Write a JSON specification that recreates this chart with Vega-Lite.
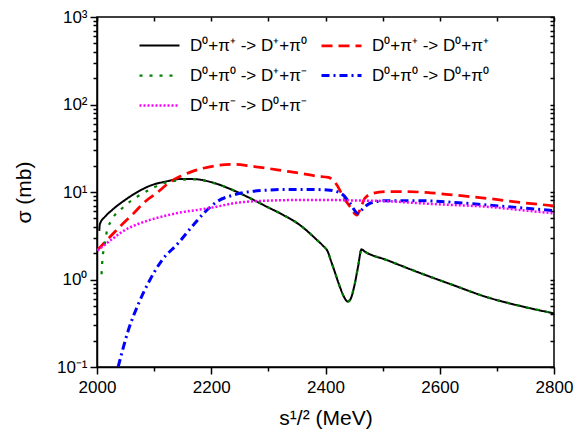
{
  "$schema": "https://vega.github.io/schema/vega-lite/v6.json",
  "width": 457,
  "height": 350,
  "autosize": "none",
  "padding": {"left": 97, "top": 17, "right": 22, "bottom": 69},
  "background": "white",
  "config": {
    "font": "Liberation Sans",
    "view": {"stroke": "black", "strokeWidth": 1.5},
    "axis": {
      "grid": false,
      "ticks": true,
      "domainColor": "black",
      "domainWidth": 1.5,
      "tickColor": "black",
      "tickWidth": 1.5,
      "tickOpacity": 1,
      "labelColor": "black",
      "titleColor": "black",
      "labelFont": "Liberation Sans",
      "titleFont": "Liberation Sans",
      "titleFontWeight": "normal",
      "labelFontSize": 17,
      "titleFontSize": 21
    }
  },
  "data": {
    "values": [
      {"reaction": "D⁰+π⁺ -> D⁺+π⁰", "x": 2004, "y": 3.6},
      {"reaction": "D⁰+π⁺ -> D⁺+π⁰", "x": 2005, "y": 4.3},
      {"reaction": "D⁰+π⁺ -> D⁺+π⁰", "x": 2015, "y": 5.3},
      {"reaction": "D⁰+π⁺ -> D⁺+π⁰", "x": 2026, "y": 6.2},
      {"reaction": "D⁰+π⁺ -> D⁺+π⁰", "x": 2049, "y": 8.1},
      {"reaction": "D⁰+π⁺ -> D⁺+π⁰", "x": 2072, "y": 10.1},
      {"reaction": "D⁰+π⁺ -> D⁺+π⁰", "x": 2096, "y": 12.0},
      {"reaction": "D⁰+π⁺ -> D⁺+π⁰", "x": 2119, "y": 13.1},
      {"reaction": "D⁰+π⁺ -> D⁺+π⁰", "x": 2148, "y": 14.1},
      {"reaction": "D⁰+π⁺ -> D⁺+π⁰", "x": 2172, "y": 14.0},
      {"reaction": "D⁰+π⁺ -> D⁺+π⁰", "x": 2201, "y": 12.9},
      {"reaction": "D⁰+π⁺ -> D⁺+π⁰", "x": 2238, "y": 10.5},
      {"reaction": "D⁰+π⁺ -> D⁺+π⁰", "x": 2268, "y": 8.5},
      {"reaction": "D⁰+π⁺ -> D⁺+π⁰", "x": 2297, "y": 6.8},
      {"reaction": "D⁰+π⁺ -> D⁺+π⁰", "x": 2326, "y": 5.46},
      {"reaction": "D⁰+π⁺ -> D⁺+π⁰", "x": 2355, "y": 4.2},
      {"reaction": "D⁰+π⁺ -> D⁺+π⁰", "x": 2385, "y": 2.83},
      {"reaction": "D⁰+π⁺ -> D⁺+π⁰", "x": 2395, "y": 2.45},
      {"reaction": "D⁰+π⁺ -> D⁺+π⁰", "x": 2404, "y": 2.08},
      {"reaction": "D⁰+π⁺ -> D⁺+π⁰", "x": 2410, "y": 1.6},
      {"reaction": "D⁰+π⁺ -> D⁺+π⁰", "x": 2414, "y": 1.35},
      {"reaction": "D⁰+π⁺ -> D⁺+π⁰", "x": 2425, "y": 0.83},
      {"reaction": "D⁰+π⁺ -> D⁺+π⁰", "x": 2432, "y": 0.64},
      {"reaction": "D⁰+π⁺ -> D⁺+π⁰", "x": 2439, "y": 0.56},
      {"reaction": "D⁰+π⁺ -> D⁺+π⁰", "x": 2444, "y": 0.6},
      {"reaction": "D⁰+π⁺ -> D⁺+π⁰", "x": 2450, "y": 0.82},
      {"reaction": "D⁰+π⁺ -> D⁺+π⁰", "x": 2457, "y": 1.4},
      {"reaction": "D⁰+π⁺ -> D⁺+π⁰", "x": 2463, "y": 2.21},
      {"reaction": "D⁰+π⁺ -> D⁺+π⁰", "x": 2469, "y": 2.08},
      {"reaction": "D⁰+π⁺ -> D⁺+π⁰", "x": 2507, "y": 1.67},
      {"reaction": "D⁰+π⁺ -> D⁺+π⁰", "x": 2565, "y": 1.19},
      {"reaction": "D⁰+π⁺ -> D⁺+π⁰", "x": 2623, "y": 0.865},
      {"reaction": "D⁰+π⁺ -> D⁺+π⁰", "x": 2682, "y": 0.63},
      {"reaction": "D⁰+π⁺ -> D⁺+π⁰", "x": 2740, "y": 0.5},
      {"reaction": "D⁰+π⁺ -> D⁺+π⁰", "x": 2800, "y": 0.41},

      {"reaction": "D⁰+π⁺ -> D⁰+π⁺", "x": 2000, "y": 2.15},
      {"reaction": "D⁰+π⁺ -> D⁰+π⁺", "x": 2023, "y": 3.08},
      {"reaction": "D⁰+π⁺ -> D⁰+π⁺", "x": 2043, "y": 4.2},
      {"reaction": "D⁰+π⁺ -> D⁰+π⁺", "x": 2064, "y": 5.7},
      {"reaction": "D⁰+π⁺ -> D⁰+π⁺", "x": 2084, "y": 7.75},
      {"reaction": "D⁰+π⁺ -> D⁰+π⁺", "x": 2105, "y": 9.8},
      {"reaction": "D⁰+π⁺ -> D⁰+π⁺", "x": 2125, "y": 12.6},
      {"reaction": "D⁰+π⁺ -> D⁰+π⁺", "x": 2145, "y": 15.0},
      {"reaction": "D⁰+π⁺ -> D⁰+π⁺", "x": 2166, "y": 17.1},
      {"reaction": "D⁰+π⁺ -> D⁰+π⁺", "x": 2186, "y": 18.7},
      {"reaction": "D⁰+π⁺ -> D⁰+π⁺", "x": 2204, "y": 19.8},
      {"reaction": "D⁰+π⁺ -> D⁰+π⁺", "x": 2239, "y": 20.7},
      {"reaction": "D⁰+π⁺ -> D⁰+π⁺", "x": 2268, "y": 19.8},
      {"reaction": "D⁰+π⁺ -> D⁰+π⁺", "x": 2297, "y": 18.7},
      {"reaction": "D⁰+π⁺ -> D⁰+π⁺", "x": 2326, "y": 17.5},
      {"reaction": "D⁰+π⁺ -> D⁰+π⁺", "x": 2355, "y": 16.4},
      {"reaction": "D⁰+π⁺ -> D⁰+π⁺", "x": 2385, "y": 15.2},
      {"reaction": "D⁰+π⁺ -> D⁰+π⁺", "x": 2405, "y": 14.7},
      {"reaction": "D⁰+π⁺ -> D⁰+π⁺", "x": 2410, "y": 14.2},
      {"reaction": "D⁰+π⁺ -> D⁰+π⁺", "x": 2420, "y": 12.0},
      {"reaction": "D⁰+π⁺ -> D⁰+π⁺", "x": 2431, "y": 8.8},
      {"reaction": "D⁰+π⁺ -> D⁰+π⁺", "x": 2443, "y": 6.8},
      {"reaction": "D⁰+π⁺ -> D⁰+π⁺", "x": 2455, "y": 5.45},
      {"reaction": "D⁰+π⁺ -> D⁰+π⁺", "x": 2460, "y": 6.2},
      {"reaction": "D⁰+π⁺ -> D⁰+π⁺", "x": 2469, "y": 8.5},
      {"reaction": "D⁰+π⁺ -> D⁰+π⁺", "x": 2484, "y": 9.7},
      {"reaction": "D⁰+π⁺ -> D⁰+π⁺", "x": 2507, "y": 10.1},
      {"reaction": "D⁰+π⁺ -> D⁰+π⁺", "x": 2542, "y": 10.1},
      {"reaction": "D⁰+π⁺ -> D⁰+π⁺", "x": 2583, "y": 9.8},
      {"reaction": "D⁰+π⁺ -> D⁰+π⁺", "x": 2624, "y": 9.24},
      {"reaction": "D⁰+π⁺ -> D⁰+π⁺", "x": 2682, "y": 8.47},
      {"reaction": "D⁰+π⁺ -> D⁰+π⁺", "x": 2740, "y": 7.62},
      {"reaction": "D⁰+π⁺ -> D⁰+π⁺", "x": 2800, "y": 6.95},

      {"reaction": "D⁰+π⁰ -> D⁺+π⁻", "x": 2008, "y": 1.15},
      {"reaction": "D⁰+π⁰ -> D⁺+π⁻", "x": 2009.5, "y": 1.7},
      {"reaction": "D⁰+π⁰ -> D⁺+π⁻", "x": 2013, "y": 2.37},
      {"reaction": "D⁰+π⁰ -> D⁺+π⁻", "x": 2017, "y": 3.5},
      {"reaction": "D⁰+π⁰ -> D⁺+π⁻", "x": 2026, "y": 4.8},
      {"reaction": "D⁰+π⁰ -> D⁺+π⁻", "x": 2046, "y": 6.7},
      {"reaction": "D⁰+π⁰ -> D⁺+π⁻", "x": 2070, "y": 8.8},
      {"reaction": "D⁰+π⁰ -> D⁺+π⁻", "x": 2093, "y": 10.7},
      {"reaction": "D⁰+π⁰ -> D⁺+π⁻", "x": 2116, "y": 12.6},
      {"reaction": "D⁰+π⁰ -> D⁺+π⁻", "x": 2140, "y": 13.5},
      {"reaction": "D⁰+π⁰ -> D⁺+π⁻", "x": 2163, "y": 14.0},
      {"reaction": "D⁰+π⁰ -> D⁺+π⁻", "x": 2172, "y": 14.0},
      {"reaction": "D⁰+π⁰ -> D⁺+π⁻", "x": 2201, "y": 12.9},
      {"reaction": "D⁰+π⁰ -> D⁺+π⁻", "x": 2238, "y": 10.5},
      {"reaction": "D⁰+π⁰ -> D⁺+π⁻", "x": 2268, "y": 8.5},
      {"reaction": "D⁰+π⁰ -> D⁺+π⁻", "x": 2297, "y": 6.8},
      {"reaction": "D⁰+π⁰ -> D⁺+π⁻", "x": 2326, "y": 5.46},
      {"reaction": "D⁰+π⁰ -> D⁺+π⁻", "x": 2355, "y": 4.2},
      {"reaction": "D⁰+π⁰ -> D⁺+π⁻", "x": 2385, "y": 2.83},
      {"reaction": "D⁰+π⁰ -> D⁺+π⁻", "x": 2395, "y": 2.45},
      {"reaction": "D⁰+π⁰ -> D⁺+π⁻", "x": 2404, "y": 2.08},
      {"reaction": "D⁰+π⁰ -> D⁺+π⁻", "x": 2410, "y": 1.6},
      {"reaction": "D⁰+π⁰ -> D⁺+π⁻", "x": 2414, "y": 1.35},
      {"reaction": "D⁰+π⁰ -> D⁺+π⁻", "x": 2425, "y": 0.83},
      {"reaction": "D⁰+π⁰ -> D⁺+π⁻", "x": 2432, "y": 0.64},
      {"reaction": "D⁰+π⁰ -> D⁺+π⁻", "x": 2439, "y": 0.56},
      {"reaction": "D⁰+π⁰ -> D⁺+π⁻", "x": 2444, "y": 0.6},
      {"reaction": "D⁰+π⁰ -> D⁺+π⁻", "x": 2450, "y": 0.82},
      {"reaction": "D⁰+π⁰ -> D⁺+π⁻", "x": 2457, "y": 1.4},
      {"reaction": "D⁰+π⁰ -> D⁺+π⁻", "x": 2463, "y": 2.21},
      {"reaction": "D⁰+π⁰ -> D⁺+π⁻", "x": 2469, "y": 2.08},
      {"reaction": "D⁰+π⁰ -> D⁺+π⁻", "x": 2507, "y": 1.67},
      {"reaction": "D⁰+π⁰ -> D⁺+π⁻", "x": 2565, "y": 1.19},
      {"reaction": "D⁰+π⁰ -> D⁺+π⁻", "x": 2623, "y": 0.865},
      {"reaction": "D⁰+π⁰ -> D⁺+π⁻", "x": 2682, "y": 0.63},
      {"reaction": "D⁰+π⁰ -> D⁺+π⁻", "x": 2740, "y": 0.5},
      {"reaction": "D⁰+π⁰ -> D⁺+π⁻", "x": 2800, "y": 0.41},

      {"reaction": "D⁰+π⁰ -> D⁰+π⁰", "x": 2037, "y": 0.1},
      {"reaction": "D⁰+π⁰ -> D⁰+π⁰", "x": 2055, "y": 0.265},
      {"reaction": "D⁰+π⁰ -> D⁰+π⁰", "x": 2073, "y": 0.535},
      {"reaction": "D⁰+π⁰ -> D⁰+π⁰", "x": 2093, "y": 1.0},
      {"reaction": "D⁰+π⁰ -> D⁰+π⁰", "x": 2114, "y": 1.67},
      {"reaction": "D⁰+π⁰ -> D⁰+π⁰", "x": 2142, "y": 2.59},
      {"reaction": "D⁰+π⁰ -> D⁰+π⁰", "x": 2166, "y": 4.0},
      {"reaction": "D⁰+π⁰ -> D⁰+π⁰", "x": 2189, "y": 5.9},
      {"reaction": "D⁰+π⁰ -> D⁰+π⁰", "x": 2210, "y": 7.75},
      {"reaction": "D⁰+π⁰ -> D⁰+π⁰", "x": 2239, "y": 9.24},
      {"reaction": "D⁰+π⁰ -> D⁰+π⁰", "x": 2268, "y": 10.1},
      {"reaction": "D⁰+π⁰ -> D⁰+π⁰", "x": 2297, "y": 10.5},
      {"reaction": "D⁰+π⁰ -> D⁰+π⁰", "x": 2326, "y": 10.7},
      {"reaction": "D⁰+π⁰ -> D⁰+π⁰", "x": 2370, "y": 10.7},
      {"reaction": "D⁰+π⁰ -> D⁰+π⁰", "x": 2408, "y": 10.5},
      {"reaction": "D⁰+π⁰ -> D⁰+π⁰", "x": 2420, "y": 10.1},
      {"reaction": "D⁰+π⁰ -> D⁰+π⁰", "x": 2431, "y": 9.24},
      {"reaction": "D⁰+π⁰ -> D⁰+π⁰", "x": 2443, "y": 7.43},
      {"reaction": "D⁰+π⁰ -> D⁰+π⁰", "x": 2457, "y": 5.7},
      {"reaction": "D⁰+π⁰ -> D⁰+π⁰", "x": 2466, "y": 6.5},
      {"reaction": "D⁰+π⁰ -> D⁰+π⁰", "x": 2478, "y": 7.43},
      {"reaction": "D⁰+π⁰ -> D⁰+π⁰", "x": 2507, "y": 7.96},
      {"reaction": "D⁰+π⁰ -> D⁰+π⁰", "x": 2565, "y": 7.96},
      {"reaction": "D⁰+π⁰ -> D⁰+π⁰", "x": 2624, "y": 7.62},
      {"reaction": "D⁰+π⁰ -> D⁰+π⁰", "x": 2682, "y": 7.1},
      {"reaction": "D⁰+π⁰ -> D⁰+π⁰", "x": 2740, "y": 6.62},
      {"reaction": "D⁰+π⁰ -> D⁰+π⁰", "x": 2800, "y": 6.1},

      {"reaction": "D⁰+π⁻ -> D⁰+π⁻", "x": 2001, "y": 2.15},
      {"reaction": "D⁰+π⁻ -> D⁰+π⁻", "x": 2026, "y": 2.88},
      {"reaction": "D⁰+π⁻ -> D⁰+π⁻", "x": 2049, "y": 3.68},
      {"reaction": "D⁰+π⁻ -> D⁰+π⁻", "x": 2072, "y": 4.31},
      {"reaction": "D⁰+π⁻ -> D⁰+π⁻", "x": 2096, "y": 4.87},
      {"reaction": "D⁰+π⁻ -> D⁰+π⁻", "x": 2125, "y": 5.46},
      {"reaction": "D⁰+π⁻ -> D⁰+π⁻", "x": 2154, "y": 5.96},
      {"reaction": "D⁰+π⁻ -> D⁰+π⁻", "x": 2183, "y": 6.34},
      {"reaction": "D⁰+π⁻ -> D⁰+π⁻", "x": 2204, "y": 6.69},
      {"reaction": "D⁰+π⁻ -> D⁰+π⁻", "x": 2239, "y": 7.43},
      {"reaction": "D⁰+π⁻ -> D⁰+π⁻", "x": 2297, "y": 7.96},
      {"reaction": "D⁰+π⁻ -> D⁰+π⁻", "x": 2355, "y": 8.1},
      {"reaction": "D⁰+π⁻ -> D⁰+π⁻", "x": 2408, "y": 8.1},
      {"reaction": "D⁰+π⁻ -> D⁰+π⁻", "x": 2450, "y": 8.0},
      {"reaction": "D⁰+π⁻ -> D⁰+π⁻", "x": 2500, "y": 7.9},
      {"reaction": "D⁰+π⁻ -> D⁰+π⁻", "x": 2565, "y": 7.43},
      {"reaction": "D⁰+π⁻ -> D⁰+π⁻", "x": 2624, "y": 7.1},
      {"reaction": "D⁰+π⁻ -> D⁰+π⁻", "x": 2682, "y": 6.79},
      {"reaction": "D⁰+π⁻ -> D⁰+π⁻", "x": 2740, "y": 6.23},
      {"reaction": "D⁰+π⁻ -> D⁰+π⁻", "x": 2800, "y": 5.7}
    ]
  },
  "layer": [
    {
      "mark": {"type": "line", "clip": true, "interpolate": "monotone"},
      "encoding": {
        "x": {
          "field": "x", "type": "quantitative",
          "scale": {"domain": [2000, 2800], "nice": false, "zero": false},
          "axis": {
            "orient": "bottom",
            "values": [2000, 2200, 2400, 2600, 2800],
            "format": "d",
            "ticks": true,
            "tickSize": 7,
            "labelPadding": 5,
            "labelOverlap": false,
            "labelFlush": false,
            "title": "s¹/² (MeV)",
            "titlePadding": 12
          }
        },
        "y": {
          "field": "y", "type": "quantitative",
          "scale": {"type": "log", "domain": [0.1, 1000], "nice": false},
          "axis": {
            "orient": "left",
            "values": [0.1, 1, 10, 100, 1000],
            "labelExpr": "datum.value == 1000 ? '10³' : datum.value == 100 ? '10²' : datum.value == 10 ? '10¹' : datum.value == 1 ? '10⁰' : '10⁻¹'",
            "ticks": true,
            "tickSize": 7,
            "labelPadding": 3,
            "labelOverlap": false,
            "labelFlush": false,
            "title": "σ (mb)",
            "titlePadding": 22
          }
        },
        "color": {
          "field": "reaction", "type": "nominal",
          "scale": {
            "domain": ["D⁰+π⁺ -> D⁺+π⁰", "D⁰+π⁰ -> D⁺+π⁻", "D⁰+π⁻ -> D⁰+π⁻", "D⁰+π⁺ -> D⁰+π⁺", "D⁰+π⁰ -> D⁰+π⁰"],
            "range": ["#000000", "#008000", "#ff00ff", "#ff0000", "#0000ff"]
          },
          "legend": {
            "title": null, "orient": "none", "legendX": 41, "legendY": 7, "columns": 2,
            "symbolType": "stroke", "symbolSize": 1600, "symbolStrokeWidth": 2,
            "labelFontSize": 17, "labelFont": "Liberation Sans", "labelColor": "black", "labelLimit": 300,
            "rowPadding": 0, "columnPadding": 8, "labelOffset": 9, "padding": 0
          }
        },
        "strokeDash": {
          "field": "reaction", "type": "nominal",
          "scale": {
            "domain": ["D⁰+π⁺ -> D⁺+π⁰", "D⁰+π⁰ -> D⁺+π⁻", "D⁰+π⁻ -> D⁰+π⁻", "D⁰+π⁺ -> D⁰+π⁺", "D⁰+π⁰ -> D⁰+π⁰"],
            "range": [[1, 0], [3, 7], [2, 2], [11, 6], [8, 4, 2, 4]]
          },
          "legend": {
            "title": null, "orient": "none", "legendX": 41, "legendY": 7, "columns": 2,
            "symbolType": "stroke", "symbolSize": 1600, "symbolStrokeWidth": 2,
            "labelFontSize": 17, "labelFont": "Liberation Sans", "labelColor": "black", "labelLimit": 300,
            "rowPadding": 0, "columnPadding": 8, "labelOffset": 9, "padding": 0
          }
        },
        "strokeWidth": {
          "field": "reaction", "type": "nominal",
          "scale": {
            "domain": ["D⁰+π⁺ -> D⁺+π⁰", "D⁰+π⁰ -> D⁺+π⁻", "D⁰+π⁻ -> D⁰+π⁻", "D⁰+π⁺ -> D⁰+π⁺", "D⁰+π⁰ -> D⁰+π⁰"],
            "range": [2, 3, 1.5, 2, 2]
          },
          "legend": null
        }
      }
    },
    {
      "mark": {"type": "line", "opacity": 0},
      "encoding": {
        "detail": {"field": "reaction", "type": "nominal"},
        "x": {
          "field": "x", "type": "quantitative",
          "scale": {"domain": [2000, 2800], "nice": false, "zero": false},
          "axis": {
            "orient": "bottom", "labels": false, "title": null, "domain": false, "ticks": true,
            "values": [2100, 2300, 2500, 2700],
            "tickSize": 4
          }
        },
        "y": {
          "field": "y", "type": "quantitative",
          "scale": {"type": "log", "domain": [0.1, 1000], "nice": false},
          "axis": {
            "orient": "left", "labels": false, "title": null, "domain": false, "ticks": true,
            "values": [0.2, 0.3, 0.4, 0.5, 0.6, 0.7, 0.8, 0.9, 2, 3, 4, 5, 6, 7, 8, 9, 20, 30, 40, 50, 60, 70, 80, 90, 200, 300, 400, 500, 600, 700, 800, 900],
            "tickSize": 4
          }
        }
      }
    },
    {
      "mark": {"type": "line", "opacity": 0},
      "encoding": {
        "detail": {"field": "reaction", "type": "nominal"},
        "x": {
          "field": "x", "type": "quantitative",
          "scale": {"domain": [2000, 2800], "nice": false, "zero": false},
          "axis": {
            "orient": "top", "labels": false, "title": null, "domain": false, "ticks": true,
            "values": [2000, 2100, 2200, 2300, 2400, 2500, 2600, 2700, 2800],
            "offset": -4,
            "tickSize": 4
          }
        },
        "y": {
          "field": "y", "type": "quantitative",
          "scale": {"type": "log", "domain": [0.1, 1000], "nice": false},
          "axis": {
            "orient": "right", "labels": false, "title": null, "domain": false, "ticks": true,
            "values": [0.1, 0.2, 0.3, 0.4, 0.5, 0.6, 0.7, 0.8, 0.9, 1, 2, 3, 4, 5, 6, 7, 8, 9, 10, 20, 30, 40, 50, 60, 70, 80, 90, 100, 200, 300, 400, 500, 600, 700, 800, 900, 1000],
            "offset": -4,
            "tickSize": 4
          }
        }
      }
    }
  ],
  "resolve": {"axis": {"x": "independent", "y": "independent"}}
}
